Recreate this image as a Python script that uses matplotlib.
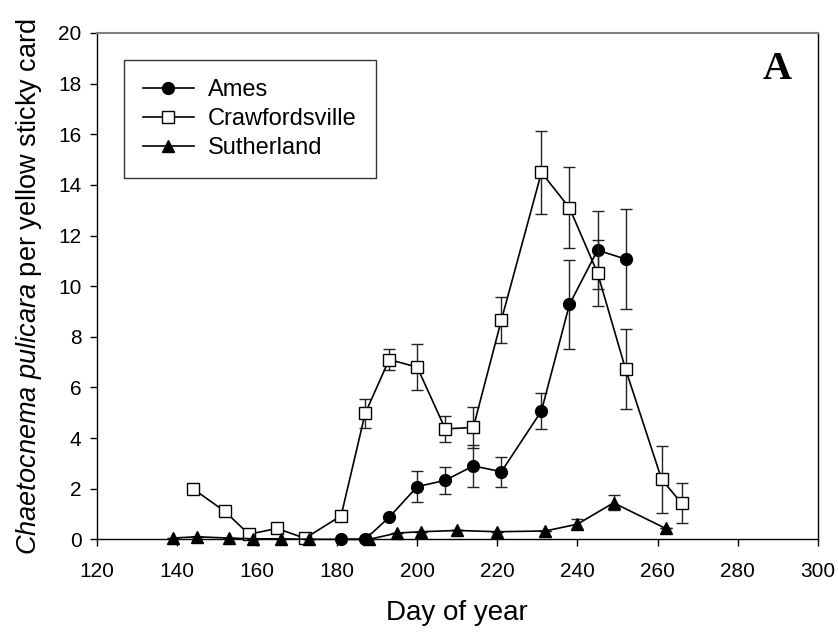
import matplotlib
matplotlib.use("Agg")
import matplotlib.pyplot as plt
from matplotlib.lines import Line2D

plt.rcParams['font.family'] = ['Liberation Sans', 'DejaVu Sans']
plt.rcParams['mathtext.fontset'] = 'custom'
plt.rcParams['mathtext.it'] = 'Liberation Sans:italic'
plt.rcParams['mathtext.rm'] = 'Liberation Sans'

# Mean beetle counts per card (+/- SE) by day of year
ames_day = [181, 187, 193, 200, 207, 214, 221, 231, 238, 245, 252]
ames_mean = [0.0, 0.0, 0.87, 2.08, 2.33, 2.90, 2.67, 5.07, 9.28, 11.42, 11.07]
ames_se = [0, 0, 0, 0.60, 0.53, 0.82, 0.59, 0.72, 1.77, 1.55, 1.97]

craw_day = [144, 152, 158, 165, 172, 181, 187, 193, 200, 207, 214, 221, 231,
            238, 245, 252, 261, 266]
craw_mean = [2.0, 1.10, 0.20, 0.43, 0.04, 0.93, 4.97, 7.10, 6.80, 4.36, 4.42,
             8.66, 14.49, 13.09, 10.52, 6.72, 2.37, 1.42]
craw_se = [0.12, 0, 0, 0, 0, 0.15, 0.57, 0.40, 0.90, 0.53, 0.80, 0.92, 1.63,
           1.60, 1.30, 1.58, 1.33, 0.79]

suth_day = [139, 145, 153, 159, 166, 173, 188, 195, 201, 210, 220, 232, 240,
            249, 262]
suth_mean = [0.05, 0.10, 0.05, 0.02, 0.02, 0.0, 0.0, 0.25, 0.30, 0.35, 0.30,
             0.33, 0.60, 1.44, 0.43]
suth_se = [0, 0, 0, 0, 0, 0, 0, 0, 0, 0, 0, 0, 0.20, 0.30, 0]

sites = ['Ames', 'Crawfordsville', 'Sutherland']
x_ticks = [120, 140, 160, 180, 200, 220, 240, 260, 280, 300]
y_ticks = [0, 2, 4, 6, 8, 10, 12, 14, 16, 18, 20]

fig = plt.figure(figsize=(8.38, 6.33), dpi=100)
ax = fig.add_axes([0.1154, 0.148, 0.8606, 0.7999])

common = dict(color='black', ecolor='#222222', elinewidth=1.0, capsize=4,
              capthick=1.0, linewidth=1.2, clip_on=False)

styles = [
    dict(marker='o', markersize=8.5, markerfacecolor='black',
         markeredgecolor='black'),
    dict(marker='s', markersize=8, markerfacecolor='white',
         markeredgecolor='black', markeredgewidth=1.0),
    dict(marker='^', markersize=9, markerfacecolor='black',
         markeredgecolor='black'),
]
series = [(ames_day, ames_mean, ames_se),
          (craw_day, craw_mean, craw_se),
          (suth_day, suth_mean, suth_se)]

for (d, m, e), st, z in zip(series, styles, [3, 4, 5]):
    ax.errorbar(d, m, yerr=e, linestyle='-', zorder=z, **st, **common)

ax.set_xlim(120, 300)
ax.set_ylim(0, 20)
ax.set_xticks(x_ticks)
ax.set_yticks(y_ticks)
ax.tick_params(direction='out', length=5, width=1, labelsize=15,
               top=False, right=False)
ax.tick_params(axis='x', pad=11)
ax.tick_params(axis='y', pad=6)

for side in ['left', 'bottom', 'right']:
    ax.spines[side].set_linewidth(1.0)
    ax.spines[side].set_color('black')
ax.spines['top'].set_color('#808080')
ax.spines['top'].set_linewidth(1.5)

ax.set_xlabel('Day of year', fontsize=20, labelpad=14)
ax.set_ylabel(r'$\mathit{Chaetocnema\ pulicara}$ per yellow sticky card',
              fontsize=19.5, labelpad=10)

handles = [Line2D([], [], color='black', linewidth=1.2, **st) for st in styles]
leg = ax.legend(handles, sites, loc='upper left',
                bbox_to_anchor=(0.038, 0.946),
                fontsize=17, frameon=True, fancybox=False, edgecolor='black',
                borderpad=0.8, handlelength=2.15, handletextpad=0.6,
                labelspacing=0.3, borderaxespad=0)
leg.get_frame().set_linewidth(1.0)

ax.text(0.943, 0.928, 'A', transform=ax.transAxes, ha='center', va='center',
        fontsize=29, fontweight='bold', family='Liberation Serif')

fig.savefig('out.png', dpi=100)
